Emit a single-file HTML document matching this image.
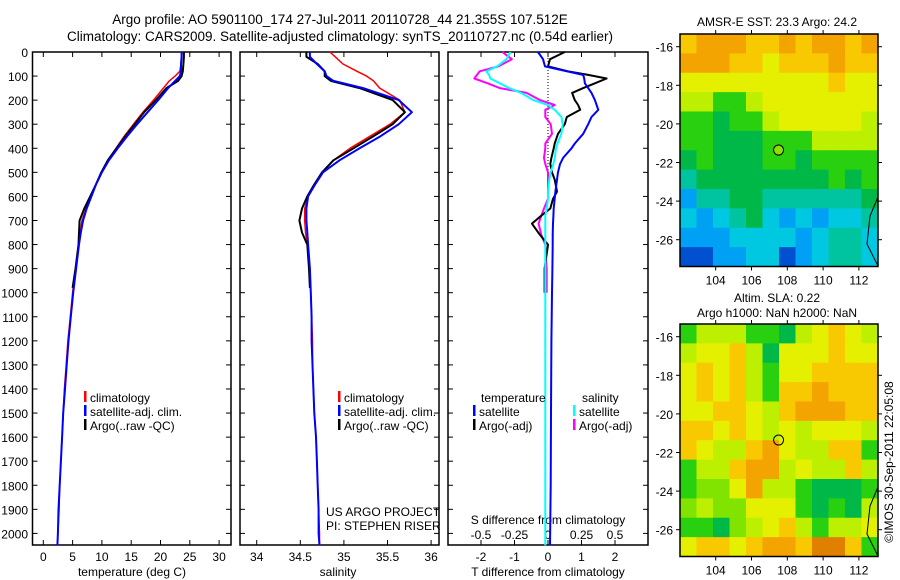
<!DOCTYPE html>
<html><head><meta charset="utf-8"><style>
html,body{margin:0;padding:0;background:#fff;}
svg{display:block;font-family:"Liberation Sans",sans-serif;}
</style></head><body>
<svg id="fig" width="900" height="580" viewBox="0 0 900 580" xmlns="http://www.w3.org/2000/svg">
<text x="340" y="24" font-size="13.5" text-anchor="middle">Argo profile: AO 5901100_174 27-Jul-2011 20110728_44 21.355S 107.512E</text>
<text x="340" y="41" font-size="13.5" text-anchor="middle">Climatology: CARS2009. Satellite-adjusted climatology: synTS_20110727.nc (0.54d earlier)</text>
<text x="777" y="26" font-size="12" text-anchor="middle">AMSR-E SST: 23.3 Argo: 24.2</text>
<text x="777" y="302" font-size="12" text-anchor="middle">Altim. SLA: 0.22</text>
<text x="777" y="317" font-size="12" text-anchor="middle">Argo h1000: NaN h2000: NaN</text>
<text transform="translate(893,462) rotate(-90)" font-size="12" text-anchor="middle">©IMOS 30-Sep-2011 22:05:08</text>
<g id="g"></g>
</svg>
<script>
// ---- data ----
const depths = [0,20,50,80,100,120,150,200,250,300,350,400,450,500,550,600,650,700,750,800,900,1000,1100,1200,1300,1400,1500,1600,1700,1800,1900,2000,2050];
const tempClim = [23.7,23.6,23.5,23.3,22.5,21.5,20.5,18.8,17.0,15.4,13.8,12.4,11.0,9.9,9.0,8.2,7.3,6.6,6.3,6.0,5.5,5.0,4.6,4.2,3.9,3.6,3.4,3.2,3.0,2.8,2.7,2.5,2.4];
const tempSat = [23.6,23.6,23.5,23.5,23.3,22.5,21.3,19.6,17.8,16.0,14.3,12.7,11.2,10.0,9.0,8.2,7.4,6.8,6.4,6.1,5.6,5.1,4.7,4.3,4.0,3.7,3.4,3.2,3.0,2.8,2.6,2.5,2.4];
const argoDepths = [0,20,50,80,100,120,150,200,250,300,350,400,450,500,550,600,650,700,750,800,900,980];
const tempArgo = [24.0,24.0,23.9,23.8,23.6,23.0,21.0,19.2,17.2,15.6,14.0,12.5,11.0,9.9,9.0,8.0,7.0,6.2,6.1,6.0,5.5,5.0];
const salClim = [34.84,34.9,34.99,35.15,35.26,35.34,35.41,35.64,35.70,35.53,35.30,35.07,34.88,34.75,34.67,34.59,34.55,34.55,34.56,34.58,34.61,34.62,34.63,34.64,34.64,34.65,34.66,34.68,34.69,34.70,34.71,34.72,34.72];
const salSat = [34.61,34.61,34.69,34.78,34.80,34.88,35.22,35.63,35.78,35.63,35.42,35.18,34.95,34.76,34.67,34.59,34.57,34.57,34.58,34.59,34.61,34.62,34.63,34.63,34.64,34.65,34.66,34.68,34.69,34.70,34.71,34.71,34.72];
const salArgo = [34.57,34.57,34.70,34.78,34.78,34.85,35.18,35.56,35.70,35.56,35.34,35.11,34.88,34.75,34.66,34.58,34.52,34.49,34.52,34.58,34.60,34.61];
const diffDepths = [0,30,60,80,95,110,130,150,170,200,220,240,270,300,340,380,400,440,465,500,530,580,610,650,680,713,760,800,900,1000,1200,1500,1800,2050];
const dTsat = [-0.3,-0.15,-0.09,0.56,1.05,1.08,1.1,1.2,1.3,1.4,1.45,1.5,1.3,1.2,1.05,0.8,0.7,0.45,0.36,0.3,0.27,0.22,0.2,0.17,0.16,0.15,0.14,0.14,0.13,0.12,0.1,0.09,0.08,0.06];
const dTargo = [0.5,0.06,0,0.6,1.2,1.75,1.4,1.05,0.72,0.8,0.9,0.96,0.56,0.5,0.3,0.2,0.17,0.1,0.07,0.12,0.2,0.27,0.15,0.07,-0.2,-0.48,-0.24,0,-0.1,-0.1,null,null,null,null];
const dSargo = [-0.34,-0.27,-0.37,-0.51,-0.53,-0.55,-0.45,-0.36,-0.16,-0.06,0.05,-0.02,-0.02,0.02,0.03,-0.02,-0.02,-0.03,-0.02,0,0,0,0,-0.03,-0.05,-0.07,-0.05,-0.02,-0.01,-0.01,null,null,null,null];
const dSsat = [-0.28,-0.31,-0.38,-0.46,-0.44,-0.43,-0.36,-0.29,-0.2,-0.11,0,0.05,0.1,0.11,0.1,0.07,0.06,0.05,0.04,0.02,0.01,0,0,-0.01,-0.02,-0.02,-0.02,-0.02,-0.02,-0.02,-0.02,-0.02,-0.02,-0.02];
const depthTicks = [0,100,200,300,400,500,600,700,800,900,1000,1100,1200,1300,1400,1500,1600,1700,1800,1900,2000];
const tempTicks = [0,5,10,15,20,25,30];
const salTicks = [34,34.5,35,35.5,36];
const tdiffTicks = [-2,-1,0,1,2];
const sdiffTicks = [-0.5,-0.25,0,0.25,0.5];
const sdiffLabels = ["-0.5","-0.25","0","0.25","0.5"];
const lonTicks = [104,106,108,110,112];
const latTicks = [-16,-18,-20,-22,-24,-26];
const sstGrid = ["oOOOooOoOOoO","OOOooYoooOoo","YYYYYYYYYoYY","yyGGyYYYYYYY","GGgGGyYYYYYy","GGgggGGGyyyy","gGgggGGgGGGG","TggggggggGgG","BTTggTTTTTTg","CBCTgCBCBCCT","BBBCCCCBCTTC","DDBBCCDBCTTC"];
const slaGrid = ["GyyyGGgyYoYy","yYYoygYYYoYY","YoYoyGYYoooo","YoYoyGooOooo","YYooYyoOOOoo","ooYoYyYyYYYy","oYyyoOYyyooG","GyyoOOyYyyoy","GLLYOyyGgggG","LyLLYYYGgGgy","GGgLyYoyGyyY","YooYoOOoRRoG"];
const argoLon = 107.512, argoLat = -21.355;

// ---- helpers ----
const NS="http://www.w3.org/2000/svg";
const G=document.getElementById('g');
function mk(tag,attrs,parent){const e=document.createElementNS(NS,tag);for(const k in attrs)e.setAttribute(k,attrs[k]);(parent||G).appendChild(e);return e;}
const Y0=52,Y1=545;
const yD=d=>Y0+d*0.2407;
const xT=t=>43.3+t*5.86;
const xS=s=>256.7+(s-34)*87.2;
const xDT=t=>548+t*33.5;
const xDS=s=>548+s*134;
function line(xs,ds,xf,color,w,name){
  let p="";let pen=false;
  for(let i=0;i<ds.length;i++){if(xs[i]==null){pen=false;continue;}p+=(pen?"L":"M")+xf(xs[i]).toFixed(1)+","+yD(ds[i]).toFixed(1);pen=true;}
  const e=mk('path',{d:p,fill:"none",stroke:color,"stroke-width":w,"stroke-linejoin":"round"});
  
  
}
function txt(x,y,s,opt,name){const e=mk('text',Object.assign({x:x,y:y,"font-size":12},opt||{}));e.textContent=s;
  
  
  return e;}
function panel(x0,x1,name){
  const r=mk('rect',{x:x0,y:Y0,width:x1-x0,height:Y1-Y0,fill:"none",stroke:"#000","stroke-width":1.5});
  
  
  depthTicks.forEach(d=>{mk('line',{x1:x0,x2:x0+5,y1:yD(d),y2:yD(d),stroke:"#000"});mk('line',{x1:x1,x2:x1-5,y1:yD(d),y2:yD(d),stroke:"#000"});});
}
function xticks(x0,ticks,xf,labels,ly,name){
  ticks.forEach((t,i)=>{const x=xf(t);mk('line',{x1:x,x2:x,y1:Y1,y2:Y1-5,stroke:"#000"});mk('line',{x1:x,x2:x,y1:Y0,y2:Y0+5,stroke:"#000"});
    if(labels)txt(x,ly,labels[i],{"text-anchor":"middle"},name);});
}
// panels
panel(32.5,231,'temperature-panel');
panel(240,439,'salinity-panel');
panel(448,648,'difference-panel');
depthTicks.forEach(d=>txt(28,yD(d)+5,String(d),{"text-anchor":"end"},'depth-tick-label'));
xticks(0,tempTicks,xT,tempTicks.map(String),561,'temperature-tick-label');
xticks(0,salTicks,xS,salTicks.map(String),561,'salinity-tick-label');
xticks(0,tdiffTicks,xDT,tdiffTicks.map(String),561,'tdiff-tick-label');
sdiffTicks.forEach((t,i)=>txt(xDS(t),539,sdiffLabels[i],{"text-anchor":"middle"},'sdiff-tick-label'));
txt(132,576,"temperature (deg C)",{"text-anchor":"middle"},'temperature-axis-title');
txt(338,576,"salinity",{"text-anchor":"middle"},'salinity-axis-title');
txt(548,576,"T difference from climatology",{"text-anchor":"middle"},'tdiff-axis-title');
txt(548,524,"S difference from climatology",{"text-anchor":"middle"},'sdiff-axis-title');
// zero dotted line
mk('line',{x1:548,x2:548,y1:Y0,y2:yD(500),stroke:"#000","stroke-dasharray":"1,2"});
// profiles
line(tempClim,depths,xT,"#f00",1.5,'temp-climatology-line');
line(tempArgo,argoDepths,xT,"#000",2,'temp-argo-line');
line(tempSat,depths,xT,"#00f",2,'temp-satellite-line');
line(salClim,depths,xS,"#f00",1.5,'sal-climatology-line');
line(salArgo,argoDepths,xS,"#000",2,'sal-argo-line');
line(salSat,depths,xS,"#00f",2,'sal-satellite-line');
line(dSargo,diffDepths,xDS,"#f0f",2,'sdiff-argo-line');
line(dTargo,diffDepths,xDT,"#000",2,'tdiff-argo-line');
line(dSsat,diffDepths,xDS,"#0ff",2,'sdiff-satellite-line');
line(dTsat,diffDepths,xDT,"#00f",2,'tdiff-satellite-line');
// legends
function leg(x,y,color,label,name){mk('rect',{x:x,y:y-11,width:2.5,height:11,fill:color});txt(x+6,y,label,{},name);}
[[84,"#f00","climatology"],[84,"#00f","satellite-adj. clim."],[84,"#000","Argo(..raw -QC)"]].forEach((a,i)=>leg(a[0],402+i*14,a[1],a[2],'temp-legend-entry'));
[[338,"#f00","climatology"],[338,"#00f","satellite-adj. clim."],[338,"#000","Argo(..raw -QC)"]].forEach((a,i)=>leg(a[0],402+i*14,a[1],a[2],'sal-legend-entry'));
txt(326,516,"US ARGO PROJECT",{},'project-label');
txt(326,530,"PI: STEPHEN RISER",{},'pi-label');
txt(481,402,"temperature",{},'legend-temperature-header');
txt(582,402,"salinity",{},'legend-salinity-header');
leg(473,416,"#00f","satellite",'legend-tsat');
leg(473,430,"#000","Argo(-adj)",'legend-targo');
leg(573,416,"#0ff","satellite",'legend-ssat');
leg(573,430,"#f0f","Argo(-adj)",'legend-sargo');
// maps
const COL={O:"#f4a400",o:"#f8c800",Y:"#e4f000",y:"#bcf000",L:"#80e400",G:"#28d010",g:"#00b848",T:"#00c4a0",C:"#00c8e0",B:"#00a0f4",D:"#0050d0",R:"#e08000"};
const LON0=102.2,LON1=113.1;
function mapPanel(top,grid,name){
  const x0=680,x1=878,yTop=top,yBot=top+232.5;
  const xL=l=>715.7+(l-104)*17.9;
  const yL=la=>top+12.7+(-16-la)*19.3;
  const g=mk('g',{});
  
  
  const nr=grid.length,nc=grid[0].length,cw=(x1-x0)/nc,ch=(yBot-yTop)/nr;
  grid.forEach((row,r)=>{for(let c=0;c<nc;c++)mk('rect',{x:x0+c*cw,y:yTop+r*ch,width:cw+0.5,height:ch+0.5,fill:COL[row[c]]},g);});
  mk('path',{d:`M${x1},${top+163}L870,${top+182}L867,${top+210}L878,${top+232}`,fill:"none",stroke:"#000"},g);
  mk('rect',{x:x0,y:yTop,width:x1-x0,height:yBot-yTop,fill:"none",stroke:"#000","stroke-width":1.5},g);
  lonTicks.forEach(l=>{mk('line',{x1:xL(l),x2:xL(l),y1:yTop-4,y2:yTop,stroke:"#000"},g);mk('line',{x1:xL(l),x2:xL(l),y1:yBot,y2:yBot+4,stroke:"#000"},g);
    txt(xL(l),yBot+18,String(l),{"text-anchor":"middle"},'lon-tick-label');});
  latTicks.forEach(la=>{mk('line',{x1:x0-4,x2:x0,y1:yL(la),y2:yL(la),stroke:"#000"},g);mk('line',{x1:x1,x2:x1+4,y1:yL(la),y2:yL(la),stroke:"#000"},g);
    txt(673,yL(la)+5,String(la),{"text-anchor":"end"},'lat-tick-label');});
  const c=mk('circle',{cx:xL(argoLon),cy:yL(argoLat),r:5,fill:name==='sst-map'?"#8ce000":"none",stroke:"#000"},g);
  
  
}
mapPanel(34,sstGrid,'sst-map');
mapPanel(324,slaGrid,'sla-map');
</script>
</body></html>
